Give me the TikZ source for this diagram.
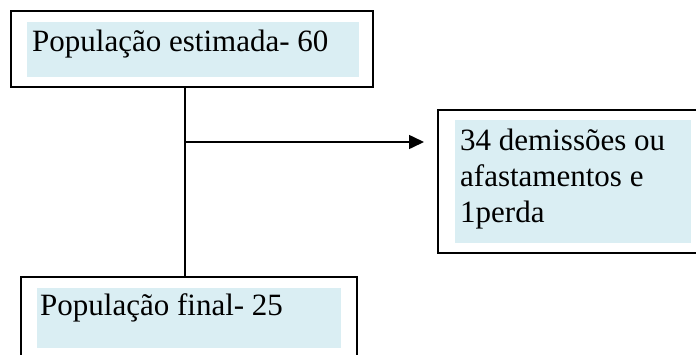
\documentclass[tikz,border=0pt]{standalone}
\usepackage{fontspec}
\setmainfont{Liberation Serif}
\usetikzlibrary{arrows.meta}
\definecolor{boxfill}{RGB}{218,238,243}
\tikzset{
  frame/.style={draw=black, line width=2pt, rectangle, inner sep=0pt},
  shade/.style={fill=boxfill, rectangle, inner sep=0pt},
  label/.style={anchor=base west, inner sep=0pt, font=\fontsize{31}{36}\selectfont, align=left},
  conn/.style={draw=black, line width=2pt},
  arr/.style={draw=black, line width=1.6pt, -{Triangle[length=15pt,width=14pt]}}
}
\begin{document}
\begin{tikzpicture}[x=1pt,y=-1pt]
\useasboundingbox (0,0) rectangle (696,354);
% top box
\node[frame, minimum width=362pt, minimum height=76pt] (top) at (192,49) {};
\node[shade, minimum width=332pt, minimum height=55pt] (topfill) at (193,49.5) {};
\node[label] (toptxt) at (32,51.5) {População estimada- 60};
% right box
\node[frame, minimum width=259pt, minimum height=143pt] (right) at (567.5,181.5) {};
\node[shade, minimum width=236pt, minimum height=123pt] (rightfill) at (573,181.5) {};
\node[label] (righttxt) at (460,222) {34 demissões ou\\afastamentos e\\1perda};
% bottom box
\node[frame, minimum width=336pt, minimum height=100pt] (bot) at (189,327) {};
\node[shade, minimum width=304pt, minimum height=60pt] (botfill) at (189,318) {};
\node[label] (bottxt) at (40,315) {População final- 25};
% connectors
\coordinate (vx) at (184.5,0);
\coordinate (junc) at (184.5,142);
\draw[conn] (top.south -| vx) -- (bot.north -| vx);
\draw[arr, shorten >=13pt] (junc) -- (right.west |- junc);
\end{tikzpicture}
\end{document}
